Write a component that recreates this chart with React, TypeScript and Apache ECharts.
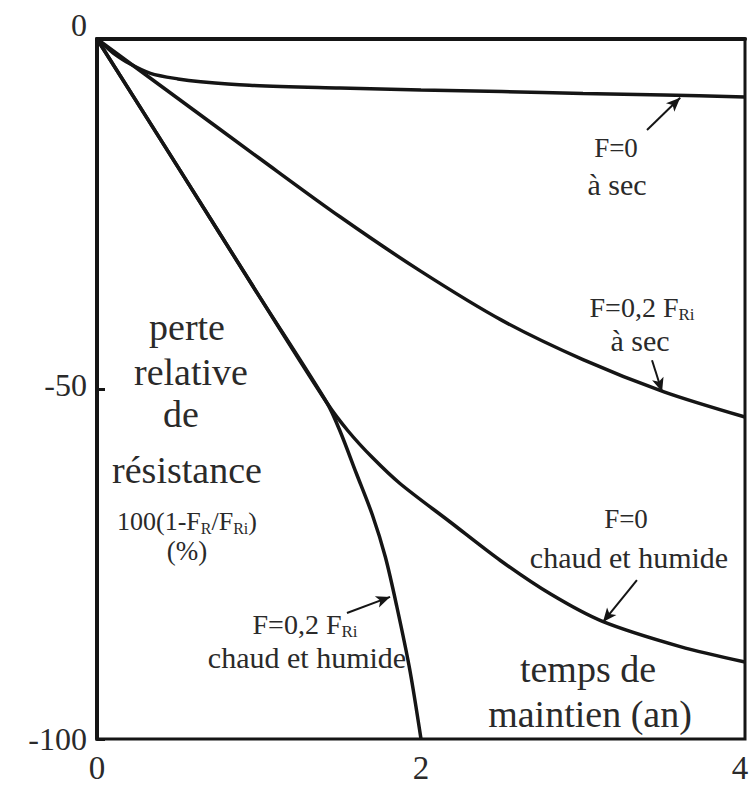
import React, { useEffect, useRef } from "react";
import * as echarts from "echarts";

// ---- data ----
const xTicks = [0, 2, 4];
const yTicks = [-100, -50, 0];

const tempsSecF0 = [0, 0.05, 0.1, 0.2, 0.33, 0.5, 0.64, 0.94, 1.5, 2, 2.5, 3, 3.5, 4];
const perteSecF0 = [0, -1.0, -2.0, -3.5, -4.9, -5.7, -6.1, -6.6, -7.0, -7.3, -7.5, -7.8, -8.0, -8.3];

const tempsSecF02 = [0, 0.5, 1, 1.5, 2, 2.5, 3, 3.5, 4];
const perteSecF02 = [0, -8.5, -17, -25.4, -33.2, -40.2, -45.8, -50.4, -54];

const tempsHumF0 = [0, 0.5, 1, 1.42, 1.55, 1.7, 1.87, 2.18, 2.49, 2.8, 3.12, 3.6, 4];
const perteHumF0 = [0, -18.3, -36.7, -52, -56, -59.8, -63.5, -69, -74.5, -79.3, -83.2, -86.8, -89];

const tempsHumF02 = [0, 0.5, 1, 1.42, 1.5, 1.6, 1.7, 1.78, 1.85, 1.93, 2.0];
const perteHumF02 = [0, -18.3, -36.7, -52, -56, -62, -68, -74, -81, -90, -100];

// annotation arrows (data coordinates: from -> to)
const arrows: [number, number, number, number][] = [
  [3.395, -13, 3.6, -8.4],
  [3.426, -45.9, 3.488, -50.4],
  [3.333, -77.3, 3.123, -83.3],
  [1.543, -82, 1.809, -79.7],
];

const serif = "'Liberation Serif', 'Times New Roman', serif";
const ink = "#151515";
const textInk = "#2a2a2a";

function zip(xs: number[], ys: number[]) {
  return xs.map((x, i) => [x, ys[i]]);
}

function label(x: number, y: number, text: string, fontSize: number, rich?: any) {
  return {
    type: "text",
    x,
    y,
    silent: true,
    style: {
      text,
      fontSize,
      fontFamily: serif,
      fill: textInk,
      align: "center",
      verticalAlign: "middle",
      rich,
    },
  };
}

const subRich = (main: number, sub: number) => ({
  m: { fontSize: main, fontFamily: serif, fill: textInk, lineHeight: main + 4 },
  s: { fontSize: sub, fontFamily: serif, fill: textInk, lineHeight: sub - 4, verticalAlign: "bottom" },
});

export default function App() {
  const ref = useRef<HTMLDivElement>(null);
  useEffect(() => {
    if (!ref.current) return;
    const chart = echarts.init(ref.current, undefined, { renderer: "svg" });
    const lineStyle = { color: ink, width: 3.5 };
    const mkSeries = (name: string, xs: number[], ys: number[]) => ({
      name,
      type: "line",
      data: zip(xs, ys),
      smooth: 0.3,
      showSymbol: false,
      symbol: "none",
      lineStyle,
      silent: true,
    });
    const s1: any = mkSeries("F=0 à sec", tempsSecF0, perteSecF0);
    s1.markLine = {
      silent: true,
      symbol: ["none", "arrow"],
      symbolSize: [9, 14],
      lineStyle: { color: ink, width: 2, type: "solid" },
      label: { show: false },
      data: arrows.map((a) => [{ coord: [a[0], a[1]] }, { coord: [a[2], a[3]] }]),
    };
    chart.setOption({
      animation: false,
      backgroundColor: "#fff",
      grid: {
        left: 97,
        top: 39,
        width: 648,
        height: 700,
        show: true,
        borderColor: ink,
        borderWidth: 3,
        containLabel: false,
        outerBoundsMode: "none",
      },
      xAxis: {
        type: "value",
        min: xTicks[0],
        max: xTicks[xTicks.length - 1],
        interval: xTicks[1] - xTicks[0],
        axisLine: { show: true, lineStyle: { color: ink, width: 4 } },
        axisTick: { show: false },
        splitLine: { show: false },
        axisLabel: {
          fontFamily: serif,
          fontSize: 33,
          color: textInk,
          margin: 12,
          formatter: (v: number) => (v === xTicks[xTicks.length - 1] ? `{end|${v}}` : String(v)),
          rich: { end: { fontFamily: serif, fontSize: 33, color: textInk, padding: [0, 10, 0, 0] } },
        },
      },
      yAxis: {
        type: "value",
        min: yTicks[0],
        max: yTicks[yTicks.length - 1],
        interval: yTicks[1] - yTicks[0],
        axisLine: { show: true, lineStyle: { color: ink, width: 4 } },
        axisTick: { show: true, inside: true, length: 8, lineStyle: { color: ink, width: 3 } },
        splitLine: { show: false },
        axisLabel: {
          fontFamily: serif,
          fontSize: 32,
          color: textInk,
          margin: 10,
          formatter: (v: number) => (v === 0 ? "{top|0}" : v === -50 ? "{mid|-50}" : String(v)),
          rich: {
            top: { fontFamily: serif, fontSize: 32, color: textInk, padding: [0, 0, 28, 0] },
            mid: { fontFamily: serif, fontSize: 32, color: textInk, padding: [0, 0, 8, 0] },
          },
        },
      },
      series: [
        s1,
        mkSeries("F=0,2 FRi à sec", tempsSecF02, perteSecF02),
        mkSeries("F=0 chaud et humide", tempsHumF0, perteHumF0),
        mkSeries("F=0,2 FRi chaud et humide", tempsHumF02, perteHumF02),
      ],
      graphic: [
        label(616, 148, "F=0", 27),
        label(617, 184, "à sec", 30),
        label(642, 307, "{m|F=0,2 F}{s|Ri}", 27, subRich(28, 17)),
        label(640, 340, "à sec", 30),
        label(626, 519, "F=0", 27),
        label(629, 557, "chaud et humide", 30),
        label(305, 624, "{m|F=0,2 F}{s|Ri}", 27, subRich(28, 17)),
        label(307, 657, "chaud et humide", 30),
        label(187, 327, "perte", 38),
        label(191, 372, "relative", 38),
        label(181, 414, "de", 38),
        label(187, 470, "résistance", 38),
        label(187, 521, "{m|100(1-F}{s|R}{m|/F}{s|Ri}{m|)}", 26, subRich(26, 16)),
        label(187, 551, "(%)", 27),
        label(588, 669, "temps de", 38),
        label(590, 714, "maintien (an)", 38),
      ],
    });
    return () => chart.dispose();
  }, []);
  return (
    <div
      ref={ref}
      style={{ position: "absolute", left: 0, top: 0, width: 750, height: 785, background: "#fff" }}
    />
  );
}
